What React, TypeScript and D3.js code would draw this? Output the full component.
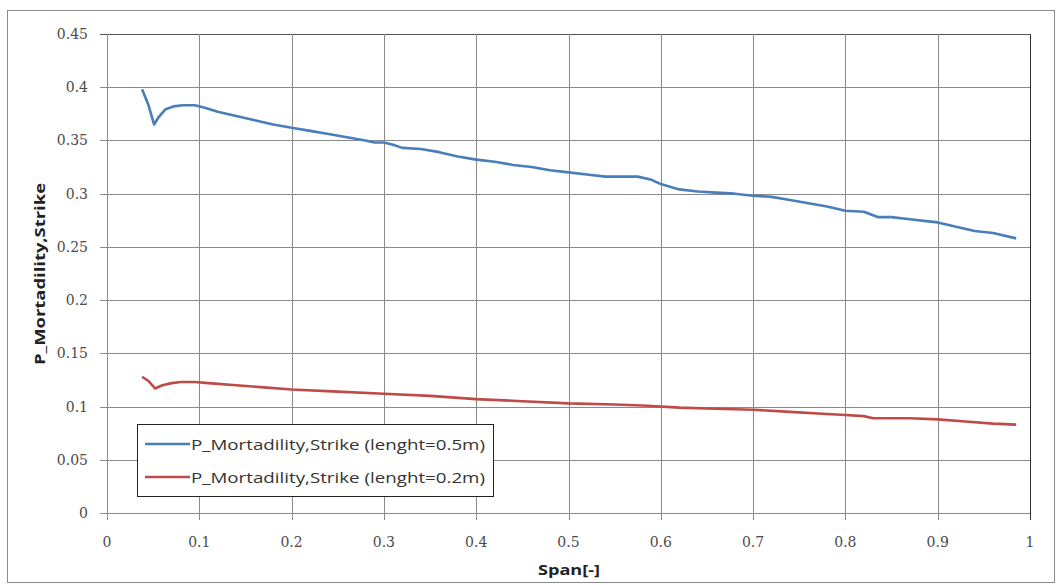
import React from "react";
import * as d3 from "d3";

const xTicks = [0, 0.1, 0.2, 0.3, 0.4, 0.5, 0.6, 0.7, 0.8, 0.9, 1];
const yTicks = [0, 0.05, 0.1, 0.15, 0.2, 0.25, 0.3, 0.35, 0.4, 0.45];

const seriesNames = [
  "P_Mortadility,Strike (lenght=0.5m)",
  "P_Mortadility,Strike (lenght=0.2m)",
];

const spanLong = [0.038,0.045,0.051,0.056,0.063,0.072,0.082,0.095,0.105,0.12,0.14,0.16,0.18,0.2,0.22,0.24,0.26,0.28,0.29,0.3,0.31,0.32,0.34,0.36,0.38,0.4,0.42,0.44,0.46,0.48,0.5,0.52,0.54,0.56,0.575,0.59,0.6,0.62,0.64,0.66,0.68,0.7,0.72,0.74,0.76,0.78,0.8,0.82,0.835,0.85,0.87,0.89,0.9,0.92,0.94,0.96,0.985];
const valLong = [0.398,0.383,0.365,0.372,0.379,0.382,0.383,0.383,0.381,0.377,0.373,0.369,0.365,0.362,0.359,0.356,0.353,0.350,0.348,0.348,0.346,0.343,0.342,0.339,0.335,0.332,0.330,0.327,0.325,0.322,0.320,0.318,0.316,0.316,0.316,0.313,0.309,0.304,0.302,0.301,0.300,0.298,0.297,0.294,0.291,0.288,0.284,0.283,0.278,0.278,0.276,0.274,0.273,0.269,0.265,0.263,0.258];

const spanShort = [0.038,0.045,0.052,0.06,0.07,0.08,0.095,0.11,0.14,0.17,0.2,0.25,0.3,0.35,0.4,0.45,0.5,0.55,0.58,0.62,0.66,0.7,0.74,0.78,0.8,0.82,0.83,0.87,0.9,0.93,0.96,0.985];
const valShort = [0.128,0.124,0.117,0.120,0.122,0.123,0.123,0.122,0.120,0.118,0.116,0.114,0.112,0.110,0.107,0.105,0.103,0.102,0.101,0.099,0.098,0.097,0.095,0.093,0.092,0.091,0.089,0.089,0.088,0.086,0.084,0.083];

const colors = ["#4a7ebb", "#be4b48"];

export default function App() {
  const left = 107, right = 1030, top = 34, bottom = 513;
  const x = d3.scaleLinear().domain([0, 1]).range([left, right]);
  const y = d3.scaleLinear().domain([0, 0.45]).range([bottom, top]);
  const line = d3.line<[number, number]>().x(d => x(d[0])).y(d => y(d[1]));
  const s1 = spanLong.map((v, i) => [v, valLong[i]] as [number, number]);
  const s2 = spanShort.map((v, i) => [v, valShort[i]] as [number, number]);
  const tickFont = "'DejaVu Serif', serif";
  const sans = "'Open Sans', sans-serif";
  return (
    <svg width={1061} height={585} style={{ position: "absolute", left: 0, top: 0, background: "#fff" }}>
      <rect x={7.5} y={10.5} width={1047} height={572} fill="#fff" stroke="#8a8a8a" />
      {yTicks.map(t => (
        <g key={"y" + t}>
          <line x1={left - 7} x2={right} y1={Math.round(y(t)) + 0.5} y2={Math.round(y(t)) + 0.5} stroke={t === 0.45 ? "#555" : "#8a8a8a"} strokeWidth={1} />
          <text x={88} y={y(t) + 5} textAnchor="end" fontFamily={tickFont} fontSize={14} fill="#4a4a4a">{String(t)}</text>
        </g>
      ))}
      {xTicks.map(t => (
        <g key={"x" + t}>
          <line x1={Math.round(x(t)) + 0.5} x2={Math.round(x(t)) + 0.5} y1={top} y2={bottom + 7} stroke={t === 1 ? "#333" : "#8a8a8a"} strokeWidth={1} />
          <text x={x(t)} y={547} textAnchor="middle" fontFamily={tickFont} fontSize={14} fill="#4a4a4a">{String(t)}</text>
        </g>
      ))}
      <path d={line(s1) || ""} fill="none" stroke={colors[0]} strokeWidth={2.6} strokeLinejoin="round" />
      <path d={line(s2) || ""} fill="none" stroke={colors[1]} strokeWidth={2.6} strokeLinejoin="round" />
      <g>
        <rect x={137.5} y={424.5} width={356} height={72} fill="#fff" stroke="#222" strokeWidth={1} />
        {seriesNames.map((n, i) => (
          <g key={n}>
            <line x1={145} x2={190} y1={444 + i * 33} y2={444 + i * 33} stroke={colors[i]} strokeWidth={2.6} />
            <text x={191} y={450 + i * 33} fontFamily={sans} fontSize={15} fill="#333" textLength={294} lengthAdjust="spacingAndGlyphs">{n}</text>
          </g>
        ))}
      </g>
      <text x={569} y={575} textAnchor="middle" fontFamily={sans} fontWeight="bold" fontSize={15} fill="#222" textLength={62} lengthAdjust="spacingAndGlyphs">Span[-]</text>
      <text transform={`translate(45,274) rotate(-90)`} textAnchor="middle" fontFamily={sans} fontWeight="bold" fontSize={15} fill="#222" textLength={182} lengthAdjust="spacingAndGlyphs">P_Mortadility,Strike</text>
    </svg>
  );
}
